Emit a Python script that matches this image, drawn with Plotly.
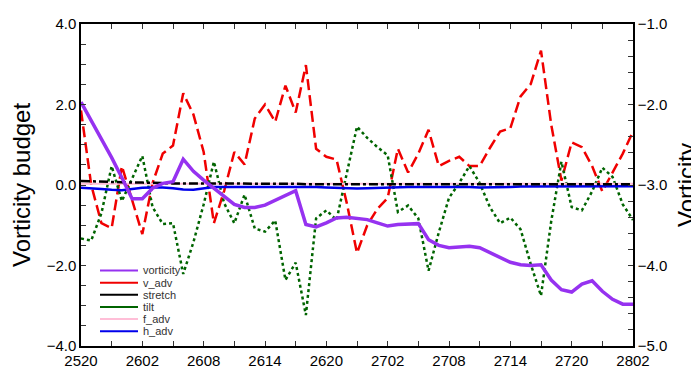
import plotly.graph_objects as go

# ---------------- data ----------------
hours = list(range(55))  # hourly from 25th 20UTC to 28th 02UTC
tick_hours = [0, 6, 12, 18, 24, 30, 36, 42, 48, 54]
tick_labels = ["2520", "2602", "2608", "2614", "2620", "2702", "2708", "2714", "2720", "2802"]

vorticity = [-1.97, -2.20, -2.41, -2.66, -2.91, -3.17, -3.17, -3.04, -2.98, -2.96,
             -2.68, -2.83, -2.94, -3.04, -3.14, -3.24, -3.28, -3.28, -3.25, -3.19,
             -3.12, -3.07, -3.49, -3.52, -3.47, -3.41, -3.40, -3.42, -3.43, -3.47,
             -3.51, -3.49, -3.48, -3.48, -3.68, -3.75, -3.78, -3.77, -3.76, -3.78,
             -3.84, -3.90, -3.96, -3.99, -4.00, -3.99, -4.18, -4.30, -4.33, -4.23,
             -4.19, -4.32, -4.42, -4.48, -4.48]

v_adv = [1.85, 0.00, -0.95, -1.07, 0.47, -0.35, -1.22, 0.05, 0.78, 0.98,
         2.28, 1.75, 0.82, -0.95, -0.15, 0.82, 0.51, 1.65, 2.00, 1.57,
         2.47, 1.80, 2.98, 0.90, 0.70, 0.63, -0.45, -1.69, -1.00, -0.59,
         -0.32, 0.90, 0.31, 0.78, 1.37, 0.47, 0.60, 0.70, 0.47, 0.47,
         0.92, 1.33, 1.41, 2.20, 2.51, 3.34, 1.50, 0.11, 1.06, 0.94,
         0.47, -0.16, 0.31, 0.78, 1.33]

stretch = [0.10, 0.09, 0.08, 0.08, 0.07, 0.06, 0.06, 0.05, 0.05, 0.04,
           0.04, 0.04, 0.03, 0.03, 0.03, 0.03, 0.03, 0.03, 0.03, 0.03,
           0.03, 0.03, 0.02, 0.02, 0.02, 0.02, 0.02, 0.02, 0.02, 0.02,
           0.02, 0.02, 0.02, 0.02, 0.02, 0.02, 0.02, 0.02, 0.02, 0.02,
           0.02, 0.02, 0.02, 0.02, 0.02, 0.02, 0.02, 0.02, 0.02, 0.02,
           0.02, 0.02, 0.02, 0.02, 0.02]

tilt = [-1.33, -1.38, -0.70, 0.47, -0.40, 0.15, 0.72, -0.55, -0.97, -0.95,
        -2.21, -1.42, -0.48, 0.58, -0.45, -0.95, -0.24, -1.08, -1.16, -0.88,
        -2.36, -1.93, -3.23, -0.83, -0.63, -0.87, 0.25, 1.45, 1.17, 0.94,
        0.74, -0.67, -0.51, -0.83, -2.13, -1.18, -0.32, 0.05, 0.47, 0.05,
        -0.55, -0.95, -0.81, -1.10, -1.97, -2.75, -0.90, 0.58, -0.55, -0.63,
        -0.16, 0.43, 0.20, -0.48, -0.87]

f_adv = [0.03, 0.03, 0.03, 0.03, 0.03, 0.03, 0.03, 0.03, 0.03, 0.03,
         0.03, 0.03, 0.03, 0.03, 0.03, 0.03, 0.03, 0.03, 0.03, 0.03,
         0.03, 0.03, 0.03, 0.03, 0.03, 0.03, 0.03, 0.03, 0.03, 0.03,
         0.03, 0.03, 0.03, 0.03, 0.03, 0.03, 0.03, 0.03, 0.03, 0.03,
         0.03, 0.03, 0.03, 0.03, 0.03, 0.03, 0.03, 0.03, 0.03, 0.03,
         0.03, 0.03, 0.03, 0.03, 0.03]

h_adv = [-0.07, -0.08, -0.10, -0.12, -0.13, -0.10, -0.07, -0.06, -0.06, -0.08,
         -0.11, -0.12, -0.08, -0.05, -0.05, -0.05, -0.04, -0.04, -0.05, -0.05,
         -0.05, -0.04, -0.04, -0.05, -0.06, -0.07, -0.08, -0.09, -0.08, -0.07,
         -0.06, -0.05, -0.05, -0.05, -0.05, -0.04, -0.04, -0.04, -0.05, -0.06,
         -0.06, -0.05, -0.05, -0.04, -0.04, -0.04, -0.04, -0.04, -0.04, -0.03,
         -0.03, -0.03, -0.03, -0.03, -0.03]

names = ["vorticity", "v_adv", "stretch", "tilt", "f_adv", "h_adv"]
colors = ["rgb(150,50,240)", "rgb(240,0,0)", "rgb(0,0,0)", "rgb(0,100,0)",
          "rgb(255,190,215)", "rgb(0,0,235)"]

FONT = "Liberation Sans, Arial, Helvetica, sans-serif"

fig = go.Figure()

fig.add_trace(go.Scatter(x=hours, y=v_adv, mode="lines", name="v_adv",
                         line=dict(color=colors[1], width=2.5, dash="11px,5px"),
                         showlegend=False))
fig.add_trace(go.Scatter(x=hours, y=tilt, mode="lines", name="tilt",
                         line=dict(color=colors[3], width=2.5, dash="3px,3px"),
                         showlegend=False))
fig.add_trace(go.Scatter(x=hours, y=f_adv, mode="lines", name="f_adv",
                         line=dict(color=colors[4], width=2),
                         showlegend=False))
fig.add_trace(go.Scatter(x=hours, y=h_adv, mode="lines", name="h_adv",
                         line=dict(color=colors[5], width=2.5),
                         showlegend=False))
fig.add_trace(go.Scatter(x=hours, y=stretch, mode="lines", name="stretch",
                         line=dict(color=colors[2], width=2.5, dash="9px,3px,3px,3px"),
                         showlegend=False))
fig.add_trace(go.Scatter(x=hours, y=vorticity, mode="lines", name="vorticity",
                         line=dict(color=colors[0], width=3.5),
                         yaxis="y2", showlegend=False))

# manual legend (solid sample lines, tight rows)
row0_px, row_step_px = 266.5, 12.8
plot_top, plot_bot, plot_left, plot_w = 7, 346, 73, 552
shapes = []
annotations = []
for i, (nm, col) in enumerate(zip(names, colors)):
    ypx = row0_px + i * row_step_px
    yp = (plot_bot - ypx) / (plot_bot - plot_top)
    shapes.append(dict(type="line", xref="paper", yref="paper",
                       x0=(92 - plot_left) / plot_w, x1=(130 - plot_left) / plot_w,
                       y0=yp, y1=yp, line=dict(color=col, width=2)))
    annotations.append(dict(xref="paper", yref="paper", x=(133 - plot_left) / plot_w, y=yp,
                            text=nm, showarrow=False, xanchor="left", yanchor="middle",
                            font=dict(family=FONT, size=11, color="#333")))

annotations.append(dict(xref="paper", yref="paper", x=(13 - plot_left) / plot_w, y=0.5,
                        text="Vorticity budget", textangle=-90, showarrow=False,
                        xanchor="center", yanchor="middle",
                        font=dict(family=FONT, size=24, color="black")))
annotations.append(dict(xref="paper", yref="paper", x=(678 - plot_left) / plot_w, y=0.5,
                        text="Vorticity", textangle=-90, showarrow=False,
                        xanchor="center", yanchor="middle",
                        font=dict(family=FONT, size=24, color="black")))

fig.update_layout(
    width=699, height=368,
    margin=dict(l=73, r=74, t=7, b=22),
    paper_bgcolor="white", plot_bgcolor="white",
    showlegend=False,
    font=dict(family=FONT, size=15, color="black"),
    xaxis=dict(range=[0, 54], tickvals=tick_hours, ticktext=tick_labels,
               ticks="inside", ticklen=5, tickwidth=1, tickcolor="#333",
               minor=dict(ticks="inside", dtick=3, tick0=0, ticklen=5, tickcolor="#333"),
               showline=True, linecolor="black", linewidth=1.5, mirror="ticks",
               showgrid=False, zeroline=False, tickfont=dict(size=15)),
    yaxis=dict(range=[-4, 4], tickvals=[-4, -2, 0, 2, 4], tickformat=".1f",
               ticks="inside", ticklen=5, tickcolor="#333",
               minor=dict(ticks="inside", dtick=0.5, tick0=0, ticklen=5, tickcolor="#333"),
               showline=True, linecolor="black", linewidth=1.5,
               showgrid=False, zeroline=False, tickfont=dict(size=15)),
    yaxis2=dict(range=[-5, -1], tickvals=[-5, -4, -3, -2, -1], tickformat=".1f",
                overlaying="y", side="right",
                ticks="inside", ticklen=5, tickcolor="#333",
                minor=dict(ticks="inside", dtick=0.2, tick0=-5, ticklen=5, tickcolor="#333"),
                showline=True, linecolor="black", linewidth=1.5,
                showgrid=False, zeroline=False, tickfont=dict(size=15)),
    shapes=shapes,
    annotations=annotations,
)

fig.write_html("out.html")
